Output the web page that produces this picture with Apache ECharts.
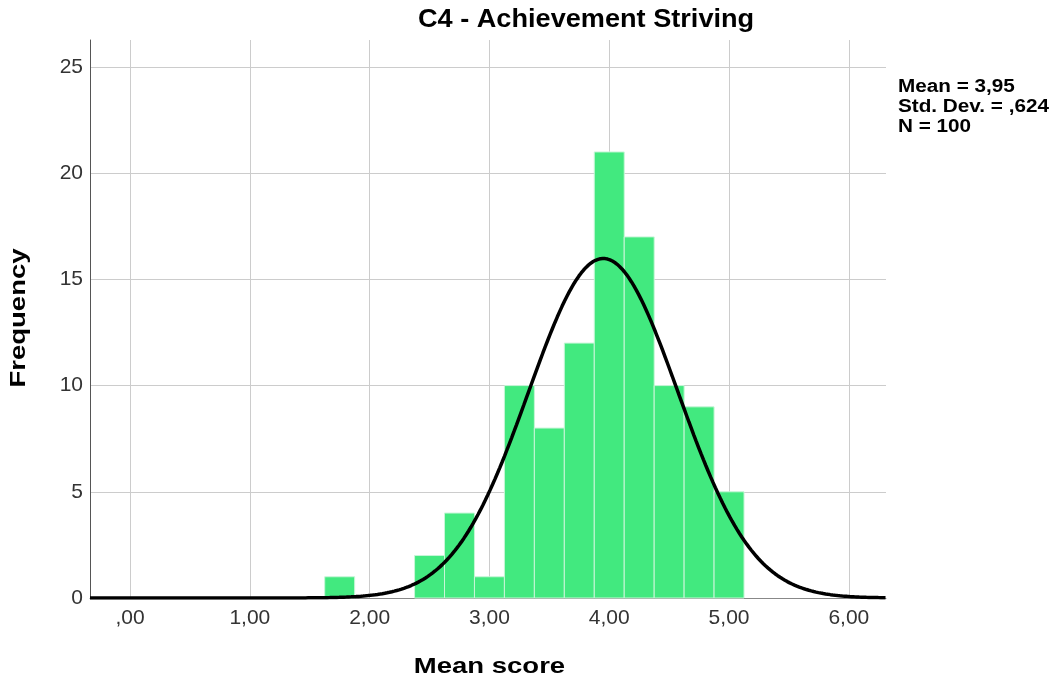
<!DOCTYPE html>
<html>
<head>
<meta charset="utf-8">
<script src="https://cdn.jsdelivr.net/npm/echarts@6/dist/echarts.min.js"></script>
<style>
  html, body { margin: 0; padding: 0; background: #fff; }
  #chart { width: 1059px; height: 685px; }
</style>
</head>
<body>
<div id="chart"></div>
<script>
// histogram bins (bin centre, frequency)
var binCenters = [1.75, 2.5, 2.75, 3.0, 3.25, 3.5, 3.75, 4.0, 4.25, 4.5, 4.75, 5.0];
var binCounts  = [1, 2, 4, 1, 10, 8, 12, 21, 17, 10, 9, 5];
var binWidth = 0.25;

// summary stats shown at the right
var statMean = 3.95;
var statSd = 0.624;
var statN = 100;
var statLines = ['Mean = 3,95', 'Std. Dev. = ,624', 'N = 100'];

var xMin = -0.334, xMax = 6.31;
var yMin = 0, yMax = 26.27;

// normal curve scaled to the histogram (mean/sd/N from the stats above)
function normalCurve() {
  var pts = [];
  var k = statN * binWidth / (statSd * Math.sqrt(2 * Math.PI));
  for (var x = xMin; x <= xMax + 1e-9; x += 0.02) {
    var z = (x - statMean) / statSd;
    pts.push([x, k * Math.exp(-0.5 * z * z)]);
  }
  return pts;
}

// SPSS style: comma decimal, no leading zero
function fmtX(v) {
  var s = v.toFixed(2).replace('.', ',');
  if (s.indexOf('0,') === 0) s = s.substring(1);
  return s;
}

var boldFont = '"Liberation Sans", Arial, sans-serif';

var myChart = echarts.init(document.getElementById('chart'));
var option = {
  animation: false,
  graphic: [
    {
      // title
      type: 'text',
      x: 418, y: 8,
      scaleX: 1.085,
      style: { text: 'C4 - Achievement Striving', font: 'bold 25px ' + boldFont, fill: '#000' }
    },
    {
      // stats box
      type: 'text',
      x: 898, y: 77,
      scaleX: 1.15,
      style: { text: statLines.join('\n'), font: 'bold 18px ' + boldFont, lineHeight: 20, fill: '#000' }
    },
    {
      // x axis name
      type: 'text',
      x: 489.5, y: 656,
      scaleX: 1.25,
      style: { text: 'Mean score', font: 'bold 22px ' + boldFont, fill: '#000', textAlign: 'center' }
    },
    {
      // y axis name
      type: 'text',
      x: 8, y: 318,
      rotation: Math.PI / 2,
      scaleX: 1.25,
      style: { text: 'Frequency', font: 'bold 22px ' + boldFont, fill: '#000', textAlign: 'center', textVerticalAlign: 'top' }
    }
  ],
  grid: { left: 90, right: 173, top: 40, bottom: 87 },
  xAxis: {
    type: 'value',
    min: xMin,
    max: xMax,
    splitNumber: 6,
    axisLine: { show: true, onZero: false, lineStyle: { color: '#888', width: 1 } },
    axisTick: { show: false },
    axisLabel: {
      showMinLabel: false,
      showMaxLabel: false,
      margin: 10,
      fontFamily: 'Liberation Sans',
      fontSize: 21,
      color: '#333',
      formatter: fmtX
    },
    splitLine: { show: true, showMinLine: false, showMaxLine: false, lineStyle: { color: '#ccc', width: 1 } }
  },
  yAxis: {
    type: 'value',
    min: yMin,
    max: yMax,
    splitNumber: 5,
    axisLine: { show: true, onZero: false, lineStyle: { color: '#555', width: 1 } },
    axisTick: { show: false },
    axisLabel: {
      showMaxLabel: false,
      margin: 7,
      padding: [6, 0, 0, 0],
      fontFamily: 'Liberation Sans',
      fontSize: 21,
      color: '#333'
    },
    splitLine: { show: true, showMinLine: false, showMaxLine: false, lineStyle: { color: '#ccc', width: 1 } }
  },
  series: [
    {
      name: 'Frequency',
      type: 'custom',
      data: binCenters.map(function (c, i) { return [c, binCounts[i]]; }),
      renderItem: function (params, api) {
        var c = api.value(0);
        var p0 = api.coord([c - binWidth / 2, api.value(1)]);
        var p1 = api.coord([c + binWidth / 2, 0]);
        return {
          type: 'rect',
          shape: { x: p0[0], y: p0[1], width: p1[0] - p0[0], height: p1[1] - p0[1] },
          style: { fill: '#42e97f', stroke: '#c8f6d8', lineWidth: 1 }
        };
      },
      z: 2
    },
    {
      name: 'Normal',
      type: 'line',
      data: normalCurve(),
      showSymbol: false,
      clip: true,
      lineStyle: { color: '#000', width: 3.5 },
      z: 3
    }
  ]
};
myChart.setOption(option);
window.addEventListener('resize', function () { myChart.resize(); });
</script>
</body>
</html>
